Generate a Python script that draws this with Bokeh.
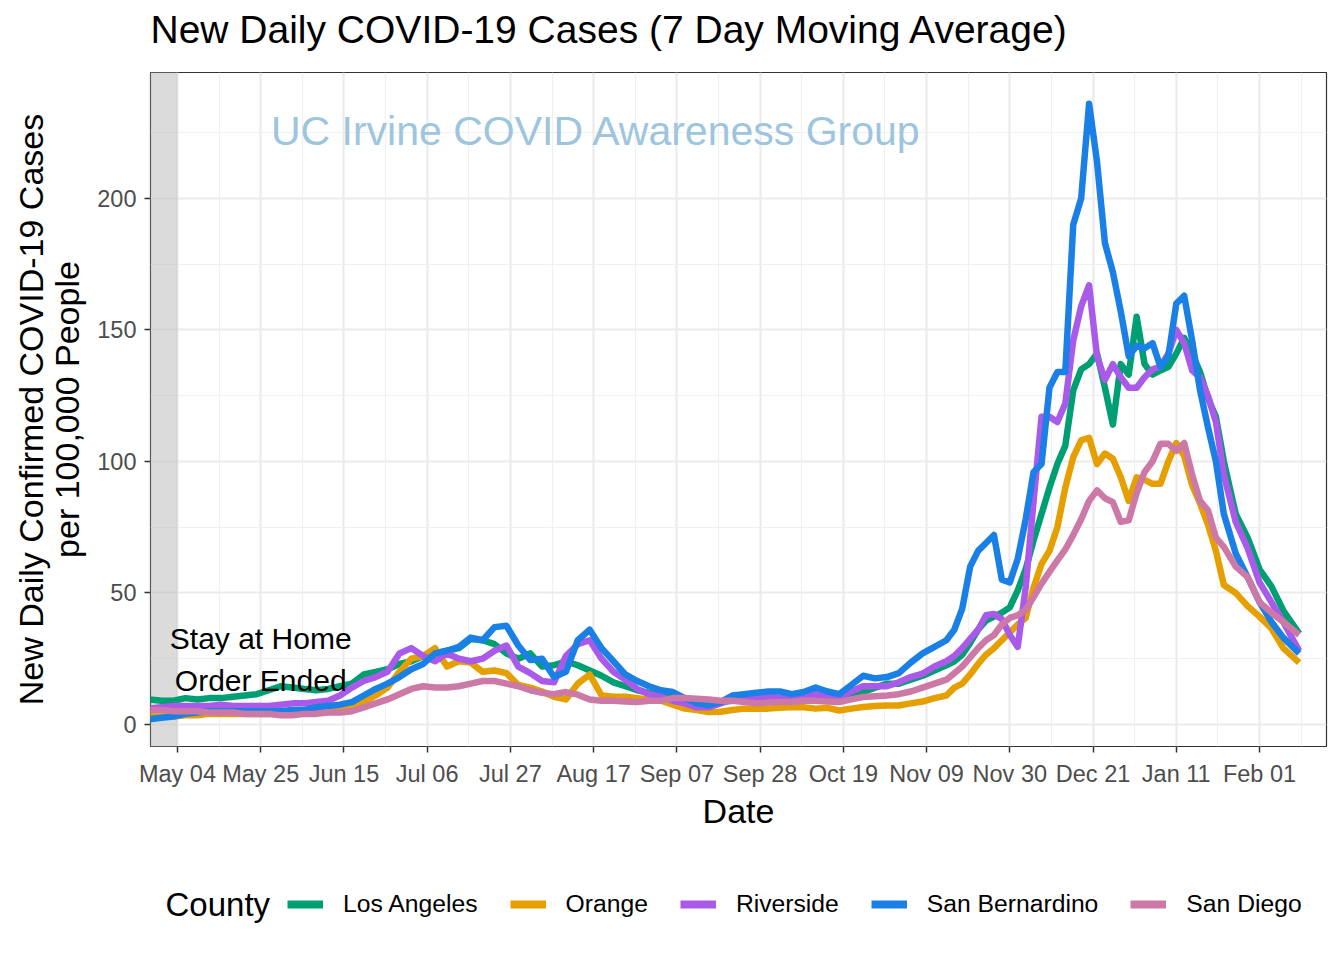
import numpy as np
import pandas as pd
from bokeh.plotting import figure
from bokeh.layouts import column
from bokeh.models import (Range1d, FixedTicker, DatetimeTickFormatter, Legend,
                          LegendItem, Label)
from bokeh.embed import file_html
from bokeh.resources import INLINE

# ---------------- data ----------------
origin = pd.Timestamp("2020-05-04")
day_offsets = list(range(-7, 195, 3)) + list(range(196, 265, 2)) + [267, 270, 273, 276, 279, 283]
dates = [origin + pd.Timedelta(days=d) for d in day_offsets]

counties = ["Los Angeles", "Orange", "Riverside", "San Bernardino", "San Diego"]
colors = ["#009E73", "#E69F00", "#A95AE8", "#1A80E6", "#CC79A7"]

los_angeles = [
    9.5, 9, 9, 10, 9.5, 10, 10, 10.5, 11, 11.5,
    13, 14.5, 14, 13.5, 13, 13.5, 14.5, 15.5, 19, 20,
    21, 23, 24, 26, 27, 28, 29, 32.5, 32, 30.5,
    27, 25, 27, 22, 22.5, 24, 22.5, 20.5, 18.5, 16,
    14.5, 13, 12, 11, 10, 9, 8.5, 8, 8.5, 9,
    9.5, 10, 10, 10, 10, 10.5, 10, 9.5, 9.5, 11,
    12.3, 14, 15.5, 15.5, 17, 18.5, 20.5, 22.5,
    24, 26.5, 31, 36, 39.5, 41, 42.5, 44.5, 51, 59,
    70, 80, 90, 99, 106, 127, 135, 137, 141, 128,
    114, 137, 133, 155, 137, 133, 134.6, 136, 141, 147,
    141, 134, 124, 117, 100,
    80, 71, 59, 52.5, 43.3, 34.5]

orange = [
    3, 3, 3, 3.5, 3.5, 4, 4, 4, 4, 4,
    4, 4, 4, 4.5, 4.5, 5, 5.5, 6.5, 8.5, 11,
    14, 20, 25, 26, 29, 22, 24, 23.5, 20, 20.5,
    19.5, 15, 14, 12.5, 10.5, 9.5, 15.5, 19, 11, 10.5,
    10.5, 10, 9.5, 9, 7.5, 6, 5.5, 4.7, 4.8, 5.5,
    6, 6, 6, 6.3, 6.6, 6.5, 6, 6.3, 5.3, 6,
    6.6, 7, 7.2, 7.2, 8, 8.7, 10, 11,
    14, 15.5, 19, 23, 26.5, 29, 32, 35, 38, 40.5,
    52, 61, 66, 75, 90, 101.6, 108, 109, 99, 103,
    101, 94, 85, 94, 93, 91.5, 91.5, 100, 107, 102,
    91, 84, 76, 66, 53,
    50, 45, 41, 36.5, 29, 23.5]

riverside = [
    6, 6.5, 7, 7, 7, 7, 7.5, 7, 7, 7,
    7, 7.5, 8, 8, 8.5, 9, 11, 14, 16.5, 18,
    20, 27, 29, 26, 24, 27, 25, 24, 25, 28,
    30, 22, 19.5, 16.5, 16, 26, 30.5, 32, 25, 20,
    17, 13.5, 11.5, 10.5, 9, 8, 6.5, 6.5, 8, 9.5,
    10, 10, 10.5, 10, 10.5, 11, 11.5, 10.5, 10.5, 12.5,
    14.5, 14.5, 14.5, 16, 18, 19.3, 22, 24,
    26, 29, 32.5, 36, 41.5, 42, 40, 34, 29.5, 52,
    85, 117, 117, 115, 122, 146, 159, 167, 140, 131,
    137, 132, 128, 128, 132, 135, 136, 141, 150, 145,
    134.6, 132, 125, 115, 95,
    77, 67, 54, 46.5, 39, 28]

san_bernardino = [
    2, 2.5, 3, 4, 4.5, 5, 5, 5, 5, 5,
    5, 5, 5.5, 5.5, 6.5, 7, 7.5, 8.5, 11, 13.5,
    15.5, 18, 21, 23, 27, 28, 29.5, 33, 32, 37,
    37.5, 30, 24.5, 25, 18, 20, 32, 36, 29, 24,
    19, 16.5, 14.5, 13, 12.3, 10, 8, 7.3, 8.5, 11,
    11.5, 12, 12.5, 12.5, 11.5, 12.3, 14, 12.5, 11.5, 15,
    18.5, 17.5, 18, 19.5, 23.5, 27, 29.5, 32,
    36, 44, 60, 66, 69, 72, 55, 54, 63, 78,
    96, 99, 128, 134, 134, 190, 200, 236, 214, 183,
    172, 157, 140, 144, 143, 145, 136, 140, 160, 163,
    146, 127, 113, 100, 80,
    65, 56, 46.5, 39, 33, 27]

san_diego = [
    5.5, 5.5, 5, 5, 5, 4.5, 4.5, 4.5, 4, 4,
    4, 3.5, 3.5, 4, 4, 4.5, 4.5, 5, 6.5, 8,
    9.5, 11.5, 13.5, 14.5, 14, 14, 14.5, 15.5, 16.5, 16.5,
    15.5, 14.5, 13, 12, 11.5, 12.3, 11.3, 9.5, 9, 9,
    8.7, 8.5, 9, 9, 10, 10, 9.8, 9.5, 9, 9,
    8.5, 8, 8.3, 8.5, 8.5, 9, 9, 8.7, 8.5, 9.5,
    10.4, 10.7, 11, 11.5, 12.5, 14, 15.5, 17,
    19.5, 22, 25.5, 29, 32, 34, 38, 40.5, 41.5, 43.5,
    48.4, 53.5, 58, 62.4, 66.5, 72, 78, 85, 89, 86,
    84.5, 77, 77.6, 88, 96, 100, 106.7, 106.7, 104, 107,
    95, 85, 81.4, 71, 67.5,
    60, 56, 46.5, 42.5, 39, 34]

series = [los_angeles, orange, riverside, san_bernardino, san_diego]

tick_dates = ["2020-05-04", "2020-05-25", "2020-06-15", "2020-07-06", "2020-07-27",
              "2020-08-17", "2020-09-07", "2020-09-28", "2020-10-19", "2020-11-09",
              "2020-11-30", "2020-12-21", "2021-01-11", "2021-02-01"]
y_ticks = [0, 50, 100, 150, 200]
y_minor = [25, 75, 125, 175, 225]

order_end_date = "2020-05-04"
title_text = "New Daily COVID-19 Cases (7 Day Moving Average)"


def ms(ts):
    return pd.Timestamp(ts).value / 1e6


DAY = 86400000.0
major_ms = [ms(t) for t in tick_dates]
minor_ms = [(a + b) / 2 for a, b in zip(major_ms[:-1], major_ms[1:])] + [major_ms[-1] + 10.5 * DAY]

x_start = ms("2020-05-04") - 6.8 * DAY
x_end = ms("2021-02-01") + 16.9 * DAY

FONT = "Liberation Sans"
BL, BR = 150, 10
FRAME_W = 1176
W = BL + FRAME_W + BR
H_TOP = 71
H_MAIN = 775
H_LEG = 98


def strip(height):
    f = figure(width=W, height=height, output_backend="svg", toolbar_location=None,
               x_range=Range1d(0, FRAME_W), y_range=Range1d(0, height),
               x_axis_location=None, y_axis_location=None, title=None,
               min_border_left=BL, min_border_right=BR, min_border_top=0, min_border_bottom=0)
    f.xgrid.grid_line_color = None
    f.ygrid.grid_line_color = None
    f.outline_line_color = None
    f.background_fill_color = "white"
    f.border_fill_color = "white"
    return f


# ---------------- title strip ----------------
top = strip(H_TOP)
top.add_layout(Label(x=0, y=H_TOP - 29, text=title_text, text_align="left",
                     text_baseline="alphabetic", text_font=FONT, text_font_size="39px",
                     text_color="black"))

# ---------------- main plot ----------------
p = figure(width=W, height=H_MAIN, x_axis_type="datetime", title=None,
           output_backend="svg", toolbar_location=None,
           x_range=Range1d(x_start, x_end), y_range=Range1d(-8.4, 247.9),
           min_border_left=BL, min_border_right=BR,
           min_border_top=1, min_border_bottom=100)

# shaded "stay at home" period
p.quad(left=[x_start - 30 * DAY], right=[ms(order_end_date)], bottom=[-50], top=[400],
       fill_color="#BEBEBE", fill_alpha=0.55, line_color=None)

for name, vals, col in zip(counties, series, colors):
    p.line(dates, vals, line_color=col, line_width=6.5, line_join="round")

xt = FixedTicker(ticks=major_ms, minor_ticks=minor_ms)
yt = FixedTicker(ticks=y_ticks, minor_ticks=y_minor)
p.xaxis.ticker = xt
p.xgrid.ticker = xt
p.yaxis.ticker = yt
p.ygrid.ticker = yt
p.xaxis.formatter = DatetimeTickFormatter(days="%b %d", months="%b %d", years="%b %d",
                                          hours="%b %d", minutes="%b %d")

for g in (p.xgrid, p.ygrid):
    g.grid_line_color = "#EBEBEB"
    g.grid_line_width = 2.2
    g.minor_grid_line_color = "#F0F0F0"
    g.minor_grid_line_width = 1.2

for ax in (p.xaxis, p.yaxis):
    ax.axis_line_color = None
    ax.major_tick_line_color = "#333333"
    ax.major_tick_line_width = 1.5
    ax.major_tick_out = 6
    ax.major_tick_in = 0
    ax.minor_tick_line_color = None
    ax.major_label_text_font_size = "23.5px"
    ax.major_label_text_color = "#4D4D4D"
    ax.major_label_text_font = FONT
    ax.axis_label_text_font_size = "34px"
    ax.axis_label_text_font_style = "normal"
    ax.axis_label_text_color = "black"
    ax.axis_label_text_font = FONT

p.xaxis.axis_label = "Date"
p.xaxis.major_label_standoff = 8
p.xaxis.axis_label_standoff = 2
p.yaxis.axis_label = "New Daily Confirmed COVID-19 Cases\nper 100,000 People"
p.yaxis.axis_label_text_line_height = 0.95
p.yaxis.major_label_standoff = 8
p.yaxis.axis_label_standoff = 8

p.outline_line_color = "#333333"
p.outline_line_width = 1.2
p.background_fill_color = "white"
p.border_fill_color = "white"

p.add_layout(Label(x=ms("2020-08-17") + 0.7 * DAY, y=225.8,
                   text="UC Irvine COVID Awareness Group",
                   text_align="center", text_baseline="middle",
                   text_font=FONT, text_font_size="41px", text_color="#9EC5DE"))
p.add_layout(Label(x=ms("2020-05-25"), y=32.7, text="Stay at Home",
                   text_align="center", text_baseline="middle",
                   text_font=FONT, text_font_size="30px", text_color="black"))
p.add_layout(Label(x=ms("2020-05-25"), y=16.7, text="Order Ended",
                   text_align="center", text_baseline="middle",
                   text_font=FONT, text_font_size="30px", text_color="black"))

# ---------------- legend strip ----------------
lg = strip(H_LEG)
# the same series (outside this strip's ranges; they serve only as legend keys)
key_renderers = [lg.line(dates, vals, line_color=c, line_width=8)
                 for vals, c in zip(series, colors)]

lg.add_layout(Label(x=15, y=40, text="County", text_align="left", text_baseline="middle",
                    text_font=FONT, text_font_size="33px", text_color="black"))

legend = Legend(items=[LegendItem(label=n, renderers=[r]) for n, r in zip(counties, key_renderers)],
                orientation="horizontal", location=(137, 26),
                glyph_width=36, glyph_height=28, label_standoff=20, spacing=32,
                padding=0, margin=0, border_line_alpha=0, background_fill_alpha=0,
                label_text_font=FONT, label_text_font_size="24.7px",
                label_text_color="black", label_text_baseline="middle", label_height=28)
lg.add_layout(legend)

layout = column(top, p, lg, spacing=0)
open("out.html", "w").write(file_html(layout, INLINE))
